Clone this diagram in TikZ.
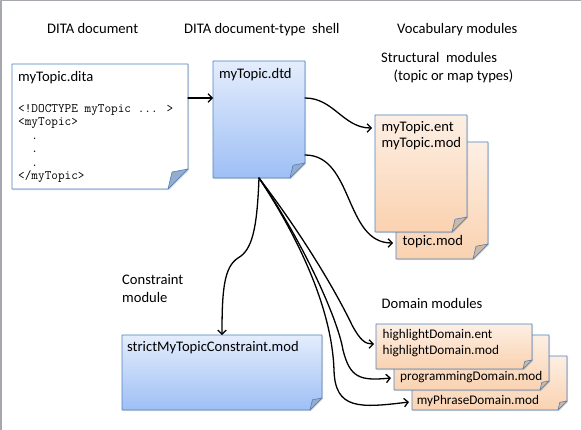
\documentclass[tikz,border=0pt]{standalone}
\usepackage{fontspec}
\setmainfont{Carlito}
\usetikzlibrary{positioning,calc,arrows.meta,shadows}

\definecolor{docline}{RGB}{79,129,189}
\definecolor{bluetop}{RGB}{228,237,252}
\definecolor{bluebot}{RGB}{158,191,245}
\definecolor{orangetop}{RGB}{253,239,228}
\definecolor{orangebot}{RGB}{250,210,176}
\definecolor{bluefold}{RGB}{150,172,205}
\definecolor{orangefold}{RGB}{204,184,164}
\definecolor{frameline}{RGB}{165,168,172}

\tikzset{
  docspot/.style={rectangle, inner sep=0pt, outer sep=0pt, anchor=north west},
  doc/.style={draw=docline, line width=0.8pt,
    drop shadow={shadow xshift=1pt, shadow yshift=-1.2pt, opacity=.25}},
  whitedoc/.style={doc, fill=white},
  bluedoc/.style={doc, top color=bluetop, bottom color=bluebot},
  orangedoc/.style={doc, top color=orangetop, bottom color=orangebot},
  boxtext/.style={inner sep=0pt, font=\fontsize{14.6}{16.6}\selectfont, align=left},
  smalltext/.style={inner sep=0pt, font=\fontsize{13.2}{15.3}\selectfont, align=left},
  codetext/.style={inner sep=0pt, font=\ttfamily\fontsize{12.9}{13.5}\selectfont, align=left},
  title/.style={inner sep=0pt, anchor=base west, font=\fontsize{14.6}{18.5}\selectfont, align=left},
  conn/.style={-{Straight Barb[length=4pt,width=8.5pt]}, line width=1.3pt, black}
}

% page with a folded corner, drawn round a placeholder node
\newcommand\docpage[4]{%
  \coordinate (fc) at (#1.south -| #1.east);
  \path[#3] (#1.north west) -- (#1.north east) -- ($(fc)+(0,-#2)$)
    -- ($(fc)+(-#2,0)$) -- (#1.south west) -- cycle;
  \filldraw[draw=docline, line width=0.6pt, fill=#4]
    ($(fc)+(0,-#2)$) -- ($(fc)+(-#2,0)$) -- ($(fc)+(-0.8*#2,-0.85*#2)$) -- cycle;}

\begin{document}
\begin{tikzpicture}[x=1pt,y=-1pt,line cap=round,line join=round]
  \useasboundingbox (0,0) rectangle (581,430);
  \draw[frameline, line width=1.5pt] (0.75,430) -- (0.75,0.5) -- (581,0.5);

  % column titles
  \node[title] (ditahead) at (47,33.3) {DITA document};
  \node[title] (shellhead) at (184,33.3) {DITA document-type\ \ shell};
  \node[title] (vocabhead) at (397,33.3) {Vocabulary modules};

  % DITA document
  \node[docspot, minimum width=176pt, minimum height=125pt] (dita) at (12,64) {};
  \docpage{dita}{20}{whitedoc}{bluefold}
  \node[boxtext, below right=7pt and 6pt of dita.north west] (ditaname) {myTopic.dita};
  \node[codetext, below right=40pt and 6pt of dita.north west] (ditacode)
    {<!DOCTYPE myTopic ... >\\<myTopic>\\~~.\\~~.\\~~.\\</myTopic>};

  % document-type shell
  \node[docspot, minimum width=92pt, minimum height=117pt] (dtd) at (213,61) {};
  \docpage{dtd}{15}{bluedoc}{bluefold}
  \node[boxtext, below right=7pt and 6pt of dtd.north west] (dtdname) {myTopic.dtd};

  % structural modules
  \node[title] (structhead) at (381,80.7) {Structural\ \ modules\\\hspace*{12.5pt}(topic or map types)};
  \node[docspot, minimum width=92pt, minimum height=117pt] (topicmod) at (396,142) {};
  \docpage{topicmod}{15}{orangedoc}{orangefold}
  \node[boxtext, below right=93pt and 6.5pt of topicmod.north west] (topicname) {topic.mod};
  \node[docspot, minimum width=92pt, minimum height=117pt] (myent) at (375,115) {};
  \docpage{myent}{15}{orangedoc}{orangefold}
  \node[boxtext, below right=6pt and 6.5pt of myent.north west] (entname) {myTopic.ent\\myTopic.mod};

  % constraint module
  \node[title] (conshead) at (122,302.7) {Constraint\\module};
  \node[docspot, minimum width=200pt, minimum height=75pt] (constraint) at (122,335) {};
  \docpage{constraint}{12}{bluedoc}{bluefold}
  \node[boxtext, below right=6pt and 5pt of constraint.north west] (consname) {strictMyTopicConstraint.mod};

  % domain modules
  \node[title] (domhead) at (381.5,308.3) {Domain modules};
  \node[docspot, minimum width=155pt, minimum height=54pt] (phrase) at (412,356) {};
  \docpage{phrase}{9}{orangedoc}{orangefold}
  \node[smalltext, below right=39pt and 4.7pt of phrase.north west] (phrasename) {myPhraseDomain.mod};
  \node[docspot, minimum width=155pt, minimum height=55pt] (prog) at (394,335) {};
  \docpage{prog}{9}{orangedoc}{orangefold}
  \node[smalltext, below right=36.5pt and 6pt of prog.north west] (progname) {programmingDomain.mod};
  \node[docspot, minimum width=156pt, minimum height=45pt] (hilite) at (376,324) {};
  \docpage{hilite}{9}{orangedoc}{orangefold}
  \node[smalltext, below right=5.5pt and 6.5pt of hilite.north west] (hilitename) {highlightDomain.ent\\highlightDomain.mod};

  % connectors
  \coordinate (dtdin) at ($(dtd.north west)+(0,37)$);
  \draw[conn] (dita.east |- dtdin) -- (dtdin);
  \draw[conn] ($(dtd.north east)+(0,37)$) to[out=0,in=180] ($(myent.north west)+(-3,13)$);
  \draw[conn] ($(dtd.north east)+(0,94)$) to[out=0,in=180] ($(topicmod.north west)+(-3,101)$);
  \draw[conn] (dtd.south) .. controls (257,230) and (252,250) .. (238,258)
    .. controls (224,267) and (222,290) .. (constraint.north);
  \draw[conn] (dtd.south) .. controls (310,245) and (340,300) .. (352,325)
    .. controls (360,340) and (365,344) .. ($(hilite.north west)+(-2,20)$);
  \draw[conn] (dtd.south) .. controls (305,245) and (338,320) .. (343,350)
    .. controls (350,378) and (360,381) .. ($(prog.north west)+(-3,43)$);
  \draw[conn] (dtd.south) .. controls (300,240) and (332,310) .. (334,370)
    .. controls (335,410) and (360,408) .. ($(phrase.north west)+(-3,46)$);
\end{tikzpicture}
\end{document}
